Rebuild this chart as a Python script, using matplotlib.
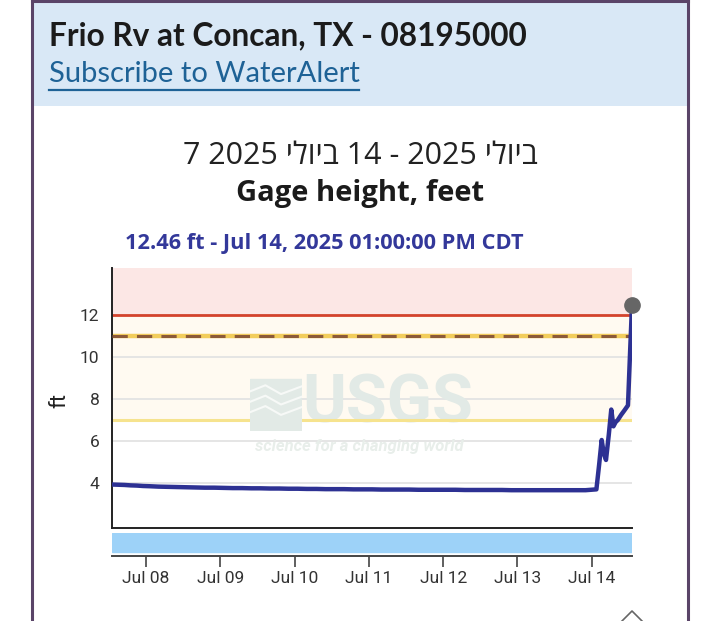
import numpy as np
import pandas as pd
import matplotlib
matplotlib.use('Agg')
import matplotlib.pyplot as plt
import matplotlib.dates as mdates
from matplotlib.patches import Rectangle
from matplotlib.lines import Line2D

# gage height readings (hours after Jul 07 2025 00:00 CDT, feet)
hours = [13, 15, 17, 19, 21, 23, 25, 28, 31, 34, 37, 40, 43, 46, 49, 52, 55, 58,
         61, 64, 67, 70, 73, 76, 79, 82, 85, 88, 91, 94, 97, 100, 103, 106,
         109, 112, 115, 118, 121, 124, 127, 130, 133, 136, 139, 142, 145, 148,
         151, 154, 157, 160, 163, 166, 169.5, 170.4, 171.2, 171.9, 172.6, 173.5,
         174.3, 175.0, 175.7, 176.4, 177.5, 178.5, 179.7, 180.4, 181.0]
gage_ft = [3.93, 3.92, 3.91, 3.89, 3.88, 3.86, 3.85, 3.83, 3.82, 3.81, 3.80, 3.79,
           3.78, 3.78, 3.77, 3.76, 3.76, 3.75, 3.75, 3.74, 3.74, 3.73, 3.73, 3.72,
           3.72, 3.71, 3.71, 3.71, 3.70, 3.70, 3.70, 3.69, 3.69, 3.69, 3.69, 3.68,
           3.68, 3.68, 3.68, 3.68, 3.67, 3.67, 3.67, 3.67, 3.67, 3.66, 3.66, 3.66,
           3.66, 3.66, 3.66, 3.66, 3.66, 3.66, 3.70, 4.90, 6.05, 5.40, 5.10, 6.30,
           7.50, 6.70, 6.90, 7.00, 7.25, 7.45, 7.70, 10.30, 12.46]

flood_stage = 12
action_stage = 11
watch_stage = 7
y_ticks = [4, 6, 8, 10, 12]
day_ticks = ['2025-07-08', '2025-07-09', '2025-07-10', '2025-07-11',
             '2025-07-12', '2025-07-13', '2025-07-14']

times = pd.Timestamp('2025-07-07') + pd.to_timedelta(hours, unit='h')
t0 = pd.Timestamp('2025-07-07 13:00')
t1 = pd.Timestamp('2025-07-14 13:00')

W, H = 720, 621
fig = plt.figure(figsize=(W / 100, H / 100), dpi=100)
fig.patch.set_facecolor('white')

def fx(x):
    return x / W

def fy(y):
    return 1 - y / H

# card and header
fig.add_artist(Rectangle((fx(33), fy(106)), fx(655), 106 / H, transform=fig.transFigure,
                         facecolor='#d9e8f6', edgecolor='none', zorder=0))
for xx in (32, 688):
    fig.add_artist(Line2D([fx(xx), fx(xx)], [0, 1], transform=fig.transFigure,
                          color='#5a4468', lw=2.2))
fig.add_artist(Line2D([fx(32), fx(688)], [fy(1), fy(1)], transform=fig.transFigure,
                      color='#5a4468', lw=2.2))

fig.text(fx(49), fy(36), 'Frio Rv at Concan, TX - 08195000', fontsize=22.8,
         fontweight='bold', family=['Lato', 'DejaVu Sans'], color='#1b1b1b', va='center')
fig.text(fx(49), fy(74), 'Subscribe to WaterAlert', fontsize=21,
         family=['Lato', 'DejaVu Sans'], color='#1e6296', va='center')
fig.add_artist(Line2D([fx(49), fx(359)], [fy(90), fy(90)], transform=fig.transFigure,
                      color='#1e6296', lw=1.6))

# Hebrew date range, typed in visual (left-to-right) glyph order
fig.text(0.5, fy(156), '7 2025 ילויב 14 - 2025 ילויב', fontsize=22,
         family=['Open Sans', 'DejaVu Sans'], color='#222222', ha='center', va='center')
fig.text(0.5, fy(193), 'Gage height, feet', fontsize=21, fontweight='bold',
         family=['Open Sans', 'DejaVu Sans'], color='#1b1b1b', ha='center', va='center')
fig.text(fx(125), fy(243), '12.46 ft - Jul 14, 2025 01:00:00 PM CDT', fontsize=15.7,
         fontweight='bold', family=['Open Sans', 'DejaVu Sans'], color='#33389a', va='center')

# main plot
ax = fig.add_axes([fx(112), fy(528), fx(520), 260 / H])
ax.set_xlim(t0, t1)
ax.set_ylim(1.86, 14.24)
ax.axhspan(flood_stage, 14.24, color='#fce7e5', zorder=0)
ax.axhspan(watch_stage, flood_stage, color='#fffaf1', zorder=0)
for v in y_ticks:
    ax.axhline(v, color='#e3e3e3', lw=1.3, zorder=1)
ax.axhline(flood_stage, color='#d4432c', lw=2.0, zorder=2)
ax.axhline(action_stage, color='#f2cd5c', lw=3.2, zorder=2)
ax.axhline(action_stage, color='#8c5a38', lw=2.2, ls=(0, (5, 3)), zorder=3)
ax.axhline(watch_stage, color='#f6e38e', lw=2.2, zorder=2)

# watermark
ax.text(0.53, 0.475, 'USGS', transform=ax.transAxes, fontsize=48, fontweight='bold',
        family=['Roboto', 'DejaVu Sans'], color='#e2eae6', ha='center', va='center',
        zorder=1)
ax.text(0.475, 0.315, 'science for a changing world', transform=ax.transAxes, fontsize=12,
        fontweight='bold', style='italic', family=['Roboto', 'DejaVu Sans'],
        color='#e8eeea', ha='center', va='center', zorder=1)
logo = ax.inset_axes([0.265, 0.375, 0.1, 0.2])
logo.set_xlim(0, 1)
logo.set_ylim(0, 1)
logo.axis('off')
logo.patch.set_alpha(0)
logo.add_patch(Rectangle((0, 0), 1, 1, color='#e2eae6'))
for yy in (0.35, 0.55, 0.75):
    logo.plot([0, 0.3, 0.6, 1], [yy, yy + 0.12, yy - 0.05, yy + 0.1], color='#f7f9f7', lw=1.5)

ax.plot(times, gage_ft, color='#2d3193', lw=3.2, zorder=5, solid_joinstyle='round')
ax.plot(times[-1], gage_ft[-1], 'o', color='#666666', ms=11, zorder=6, clip_on=False)

ax.set_yticks(y_ticks)
ax.set_yticklabels([str(v) for v in y_ticks], family=['Roboto', 'DejaVu Sans'],
                   fontsize=12.5, color='#333333')
ax.tick_params(axis='y', length=0, pad=9)
ax.set_xticks([])
for s in ('top', 'right'):
    ax.spines[s].set_visible(False)
for s in ('left', 'bottom'):
    ax.spines[s].set_color('#222222')
    ax.spines[s].set_linewidth(1.4)
ax.set_facecolor('white')
fig.text(fx(60), fy(400), 'ft', fontsize=16, rotation=90, family=['Roboto', 'DejaVu Sans'],
         color='#222222', ha='center', va='center')

# bottom strip with day ticks
bx = fig.add_axes([fx(112), fy(556), fx(520), 23 / H])
bx.set_xlim(t0, t1)
bx.set_ylim(0, 23)
bx.axhspan(4, 23, color='#9dd2f8')
bx.set_yticks([])
bx.set_xticks(pd.to_datetime(day_ticks))
bx.xaxis.set_major_formatter(mdates.DateFormatter('Jul %d'))
bx.tick_params(axis='x', length=8, width=1.2, color='#444444', pad=3, labelsize=12.5,
               labelcolor='#333333')
for lab in bx.get_xticklabels():
    lab.set_family(['Roboto', 'DejaVu Sans'])
for s in ('top', 'right', 'left'):
    bx.spines[s].set_visible(False)
bx.spines['bottom'].set_color('#444444')
bx.spines['bottom'].set_linewidth(1.4)

# scroll caret bottom right
fig.add_artist(Line2D([fx(621), fx(632), fx(643)], [fy(622), fy(611), fy(622)],
                      transform=fig.transFigure, color='#666666', lw=1.2))

fig.savefig('out.png', dpi=100)
